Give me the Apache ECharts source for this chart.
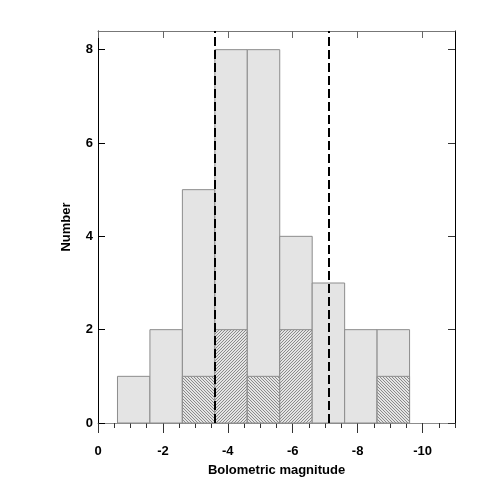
<!DOCTYPE html>
<html>
<head>
<meta charset="utf-8">
<script src="https://cdn.jsdelivr.net/npm/echarts@6/dist/echarts.min.js"></script>
<style>
  html, body { margin: 0; padding: 0; background: #fff; }
  #container { width: 485px; height: 485px; }
</style>
</head>
<body>
<div id="container"></div>
<script>
// bins (magnitude edges), counts, hatched part
var binFrom = [-0.6, -1.6, -2.6, -3.6, -4.6, -5.6, -6.6, -7.6, -8.6];
var binTo   = [-1.6, -2.6, -3.6, -4.6, -5.6, -6.6, -7.6, -8.6, -9.6];
var counts  = [1, 2, 5, 8, 8, 4, 3, 2, 2];
var hatched = [0, 0, 1, 2, 1, 2, 0, 0, 1];
// 1 = "\\\" , -1 = "///"
var hatchDir = [0, 0, 1, -1, 1, -1, 0, 0, 1];
var dashedAt = [-3.6, -7.1];

var xMajor = [0, -2, -4, -6, -8, -10];
var yMajor = [0, 2, 4, 6, 8];

var font = 'Liberation Sans';

var dom = document.getElementById('container');
var myChart = echarts.init(dom, null, { renderer: 'canvas' });

// small tile for the hatching
function makeHatch(dir) {
    var n = 3;
    var c = document.createElement('canvas');
    c.width = n; c.height = n;
    var ctx = c.getContext('2d');
    ctx.fillStyle = '#e4e4e4';
    ctx.fillRect(0, 0, n, n);
    ctx.fillStyle = '#8a8a8a';
    for (var i = 0; i < n; i++) {
        var j = dir > 0 ? i : (n - 1 - i);
        ctx.fillRect(i, j, 1, 1);
    }
    return c;
}
var hatchTiles = { '1': makeHatch(1), '-1': makeHatch(-1) };

var barData = binFrom.map(function (v, i) {
    return [v, binTo[i], counts[i], hatched[i], hatchDir[i]];
});

function renderBar(params, api) {
    var a = api.coord([api.value(0), api.value(2)]);
    var b = api.coord([api.value(1), 0]);
    var x = Math.min(a[0], b[0]), w = Math.abs(b[0] - a[0]);
    var children = [{
        type: 'rect',
        shape: { x: x, y: a[1], width: w, height: b[1] - a[1] },
        style: { fill: '#e4e4e4', stroke: '#8c8c8c', lineWidth: 1 }
    }];
    var h = api.value(3);
    if (h > 0) {
        var t = api.coord([api.value(0), h]);
        children.push({
            type: 'rect',
            shape: { x: x, y: t[1], width: w, height: b[1] - t[1] },
            style: {
                fill: { image: hatchTiles[String(api.value(4))], repeat: 'repeat' },
                stroke: '#8c8c8c', lineWidth: 1
            }
        });
    }
    return { type: 'group', children: children };
}

var labelStyle = { fontFamily: font, fontWeight: 'bold', fontSize: 13, color: '#000' };

var option = {
    backgroundColor: '#fff',
    animation: false,
    grid: { left: 98, right: 30, top: 31, bottom: 62 },
    xAxis: [
        {
            type: 'value', position: 'bottom', min: -11, max: 0, inverse: true,
            name: 'Bolometric magnitude', nameLocation: 'middle', nameGap: 41,
            nameTextStyle: labelStyle,
            axisLine: { show: true, onZero: false, lineStyle: { color: '#8c8c8c', width: 1 } },
            axisTick: { show: true, length: 10, customValues: xMajor, lineStyle: { color: '#333' } },
            axisLabel: Object.assign({ margin: 22, customValues: xMajor, formatter: function (v) { return String(v); } }, labelStyle),
            splitLine: { show: false }
        },
        {
            type: 'value', position: 'bottom', min: -11, max: 0, inverse: true, interval: 0.5,
            axisLine: { show: false, onZero: false },
            axisTick: { show: true, length: 5, lineStyle: { color: '#333' } },
            axisLabel: { show: false },
            splitLine: { show: false }
        },
        {
            type: 'value', position: 'top', min: -11, max: 0, inverse: true,
            axisLine: { show: true, onZero: false, lineStyle: { color: '#777', width: 1 } },
            axisTick: { show: true, inside: true, length: 7, customValues: xMajor, lineStyle: { color: '#666' } },
            axisLabel: { show: false },
            splitLine: { show: false }
        }
    ],
    yAxis: [
        {
            type: 'value', position: 'left', min: 0, max: 8.4,
            name: 'Number', nameLocation: 'middle', nameGap: 25,
            nameTextStyle: labelStyle,
            axisLine: { show: true, onZero: false, lineStyle: { color: '#000', width: 1 } },
            axisTick: { show: true, inside: true, length: 7, customValues: yMajor, lineStyle: { color: '#000' } },
            axisLabel: Object.assign({ margin: 5, customValues: yMajor }, labelStyle),
            splitLine: { show: false }
        },
        {
            type: 'value', position: 'right', min: 0, max: 8.4,
            axisLine: { show: true, onZero: false, lineStyle: { color: '#000', width: 1 } },
            axisTick: { show: true, inside: true, length: 7, customValues: yMajor, lineStyle: { color: '#333' } },
            axisLabel: { show: false },
            splitLine: { show: false }
        }
    ],
    series: [
        {
            type: 'custom',
            xAxisIndex: 0,
            yAxisIndex: 0,
            renderItem: renderBar,
            data: barData,
            silent: true,
            markLine: {
                silent: true,
                symbol: 'none',
                label: { show: false },
                lineStyle: { color: '#000', width: 2, type: [9, 4] },
                data: dashedAt.map(function (v) { return { xAxis: v }; })
            }
        }
    ]
};

myChart.setOption(option);
</script>
</body>
</html>
